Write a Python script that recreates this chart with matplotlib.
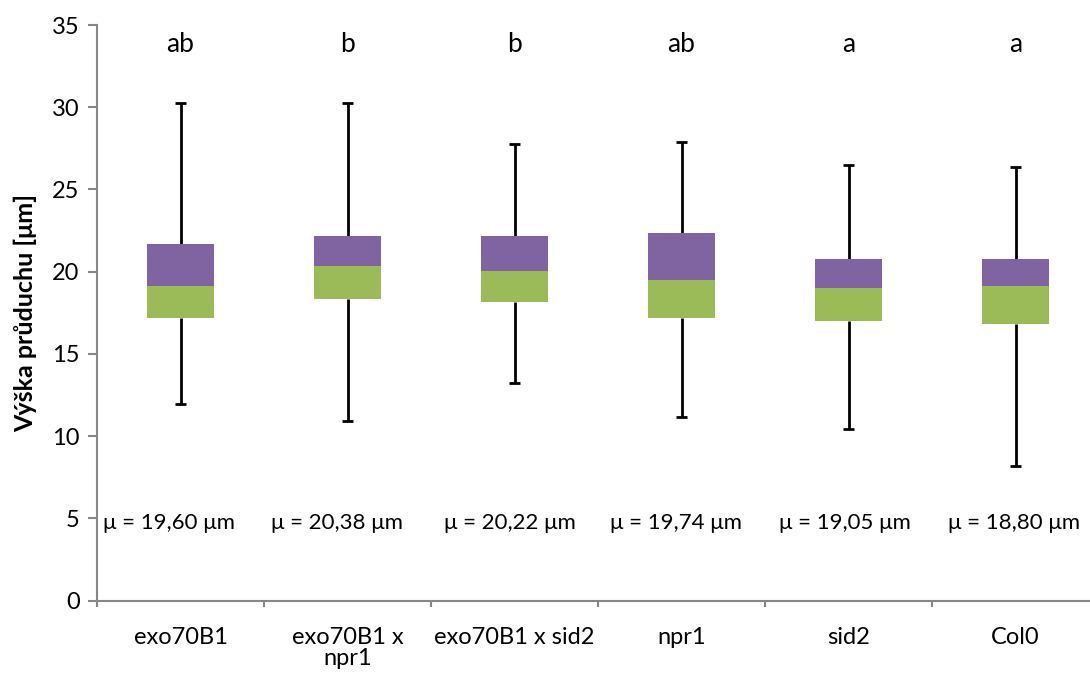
import numpy as np
import matplotlib
matplotlib.use('Agg')
import matplotlib.pyplot as plt

# --- data ---
categories = ['exo70B1', 'exo70B1 x\nnpr1', 'exo70B1 x sid2', 'npr1', 'sid2', 'Col0']
whisker_max = [30.28, 30.28, 27.79, 27.89, 26.51, 26.39]
q3 = [21.67, 22.17, 22.15, 22.37, 20.77, 20.75]
median = [19.15, 20.33, 20.02, 19.51, 19.03, 19.15]
q1 = [17.20, 18.36, 18.18, 17.20, 17.00, 16.84]
whisker_min = [11.97, 10.94, 13.25, 11.18, 10.45, 8.20]
letters = ['ab', 'b', 'b', 'ab', 'a', 'a']
means = ['19,60', '20,38', '20,22', '19,74', '19,05', '18,80']

# layout of the mean labels (slightly left of centre, as in the original text boxes)
mean_dx = [-0.07, -0.06, -0.03, -0.03, -0.02, -0.01]

plt.rcParams['font.family'] = ['Lato', 'DejaVu Sans']

fig = plt.figure(figsize=(10.9, 6.8), dpi=100)
ax = fig.add_axes([97 / 1090, 79.5 / 680, 1002 / 1090, 575.5 / 680])

x = np.arange(len(categories))
box_w = 0.4
cap_w = 0.07
purple = '#8064A2'
green = '#9BBB59'

q1 = np.array(q1)
q3 = np.array(q3)
median = np.array(median)

# whiskers
ax.vlines(x, q3, whisker_max, color='black', linewidth=2.0, zorder=1)
ax.vlines(x, whisker_min, q1, color='black', linewidth=2.0, zorder=1)
ax.hlines(whisker_max, x - cap_w / 2, x + cap_w / 2, color='black', linewidth=2.0, zorder=1)
ax.hlines(whisker_min, x - cap_w / 2, x + cap_w / 2, color='black', linewidth=2.0, zorder=1)

# stacked boxes
ax.bar(x, median - q1, bottom=q1, width=box_w, color=green, edgecolor='none', zorder=2)
ax.bar(x, q3 - median, bottom=median, width=box_w, color=purple, edgecolor='none', zorder=2)

# letters and mean labels
for i in range(len(categories)):
    ax.text(x[i], 33.8, letters[i], ha='center', va='center', fontsize=19)
    ax.text(x[i] + mean_dx[i], 4.7, f'\u03bc = {means[i]} \u03bcm', ha='center', va='center', fontsize=16)

ax.set_xlim(-0.5, len(categories) - 0.5)
ax.set_ylim(0, 35)
ax.set_yticks(np.arange(0, 36, 5))

ax.set_xticks(x)
ax.set_xticklabels(categories, fontsize=17, linespacing=1.0)
ax.set_xticks(np.arange(-0.5, len(categories), 1.0), minor=True)
ax.tick_params(axis='x', which='major', length=0, pad=19)
ax.tick_params(axis='x', which='minor', length=4.5, width=1.5, color='#868686', direction='out')
ax.tick_params(axis='y', length=6.5, width=1.5, color='#868686', direction='out', labelsize=17, pad=6)

for side in ['top', 'right']:
    ax.spines[side].set_visible(False)
for side in ['left', 'bottom']:
    ax.spines[side].set_color('#868686')
    ax.spines[side].set_linewidth(1.5)

ax.set_ylabel('V\u00fd\u0161ka pr\u016fduchu [\u03bcm]', fontsize=18, fontweight='bold', labelpad=11)

plt.savefig('out.png', dpi=100)
plt.close()
